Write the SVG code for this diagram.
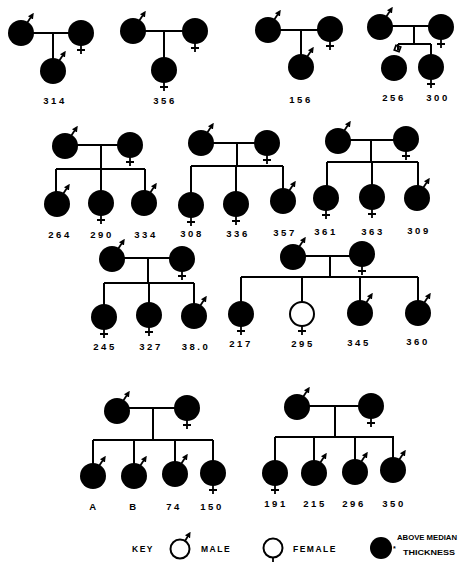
<svg xmlns="http://www.w3.org/2000/svg" width="466" height="568" viewBox="0 0 466 568">
<style>
.n{fill:#000}
.o{fill:#fff;stroke:#000;stroke-width:2}
.l{stroke:#000;stroke-width:2;fill:none}
.s{stroke:#000;stroke-width:1.8;fill:none}
.t{font-family:"Liberation Sans",Arial,sans-serif;font-weight:bold;font-size:9.5px;letter-spacing:2.5px;text-anchor:middle;fill:#000}
.k{font-family:"Liberation Sans",Arial,sans-serif;font-weight:bold;font-size:8.5px;letter-spacing:1.5px;fill:#000}
.kk{font-family:"Liberation Sans",Arial,sans-serif;font-weight:bold;font-size:8px;fill:#000}
</style>
<defs>
<marker id="ar" markerWidth="6" markerHeight="6" refX="1" refY="3" orient="auto" markerUnits="userSpaceOnUse"><path d="M0,0 L6,3 L0,6 z" fill="#000"/></marker>
</defs>
<g id="connectors" class="l">
<path d="M21 33H81M53 33V62"/>
<path d="M133 31H195M164 31V60"/>
<path d="M268 30H330M301 30V57"/>
<path d="M380 26H441M414 26V44M398 44H431M398 44V50M431 44V57"/>
<path d="M65 145H130M101 145V169M56 169H145M56 169V193M101 169V192M145 169V192"/>
<path d="M201 143H267M237 143V166M191 166H283M191 166V194M236 166V193M283 166V190"/>
<path d="M338 140H406M371 140V162M327 162H418M327 162V187M372 162V186M418 162V187"/>
<path d="M112 258H182M148 258V283M104 283H194M104 283V306M149 283V304M194 283V305"/>
<path d="M293 256H362M330 256V277M241 277H418M241 277V303M302 277V303M360 277V302M418 277V302"/>
<path d="M117 408H187M153 408V440M93 440H213M93 440V465M134 440V465M175 440V463M213 440V462"/>
<path d="M297 406H371M335 406V437M275 437H394M275 437V462M314 437V462M355 437V461M393 437V459"/>
</g>
<g id="p314">
<g id="n314f"><circle class="n" cx="21" cy="33" r="13"/><path class="s" d="M27 23L31 17" marker-end="url(#ar)"/></g>
<g id="n314m"><circle class="n" cx="81" cy="33" r="13"/><path class="s" d="M81 44V54M77 50H85"/></g>
<g id="n314c"><circle class="n" cx="53" cy="71" r="13"/><path class="s" d="M59 61L63 55" marker-end="url(#ar)"/></g>
<text class="t" x="55" y="104">314</text>
</g>
<g id="p356">
<g id="n356f"><circle class="n" cx="133" cy="31" r="13"/><path class="s" d="M139 21L143 15" marker-end="url(#ar)"/></g>
<g id="n356m"><circle class="n" cx="195" cy="31" r="13"/><path class="s" d="M195 42V52M191 48H199"/></g>
<g id="n356c"><circle class="n" cx="164" cy="70" r="13"/><path class="s" d="M164 81V91M160 87H168"/></g>
<text class="t" x="165" y="104">356</text>
</g>
<g id="p156">
<g id="n156f"><circle class="n" cx="268" cy="30" r="13"/><path class="s" d="M274 20L278 14" marker-end="url(#ar)"/></g>
<g id="n156m"><circle class="n" cx="330" cy="29" r="13"/><path class="s" d="M330 40V50M326 46H334"/></g>
<g id="n156c"><circle class="n" cx="301" cy="67" r="13"/><path class="s" d="M307 57L311 51" marker-end="url(#ar)"/></g>
<text class="t" x="301" y="103">156</text>
</g>
<g id="p256">
<g id="n256f"><circle class="n" cx="380" cy="27" r="13"/><path class="s" d="M386 17L390 11" marker-end="url(#ar)"/></g>
<g id="n256m"><circle class="n" cx="441" cy="27" r="13"/><path class="s" d="M441 38V48M437 44H445"/></g>
<g id="n256"><circle class="n" cx="394" cy="68" r="13"/><rect class="s" x="395" y="46" width="5" height="5" transform="rotate(20 397.5 48.5)"/></g>
<g id="n300"><circle class="n" cx="431" cy="67" r="13"/><path class="s" d="M431 78V88M427 84H435"/></g>
<text class="t" x="394" y="101">256</text>
<text class="t" x="438" y="101">300</text>
</g>
<g id="p264">
<g id="n264f"><circle class="n" cx="65" cy="146" r="13"/><path class="s" d="M71 136L75 130" marker-end="url(#ar)"/></g>
<g id="n264m"><circle class="n" cx="130" cy="145" r="13"/><path class="s" d="M130 156V166M126 162H134"/></g>
<g id="n264"><circle class="n" cx="57" cy="204" r="13"/><path class="s" d="M63 194L67 188" marker-end="url(#ar)"/></g>
<g id="n290"><circle class="n" cx="101" cy="203" r="13"/><path class="s" d="M101 214V224M97 220H105"/></g>
<g id="n334"><circle class="n" cx="144" cy="203" r="13"/><path class="s" d="M150 193L154 187" marker-end="url(#ar)"/></g>
<text class="t" x="60" y="238">264</text>
<text class="t" x="102" y="238">290</text>
<text class="t" x="146" y="238">334</text>
</g>
<g id="p308">
<g id="n308f"><circle class="n" cx="201" cy="143" r="13"/><path class="s" d="M207 133L211 127" marker-end="url(#ar)"/></g>
<g id="n308m"><circle class="n" cx="267" cy="143" r="13"/><path class="s" d="M267 154V164M263 160H271"/></g>
<g id="n308"><circle class="n" cx="191" cy="205" r="13"/><path class="s" d="M191 216V226M187 222H195"/></g>
<g id="n336"><circle class="n" cx="236" cy="204" r="13"/><path class="s" d="M236 215V225M232 221H240"/></g>
<g id="n357"><circle class="n" cx="283" cy="201" r="13"/><path class="s" d="M289 191L293 185" marker-end="url(#ar)"/></g>
<text class="t" x="192" y="237">308</text>
<text class="t" x="238" y="237">336</text>
<text class="t" x="285" y="236">357</text>
</g>
<g id="p361">
<g id="n361f"><circle class="n" cx="338" cy="141" r="13"/><path class="s" d="M344 131L348 125" marker-end="url(#ar)"/></g>
<g id="n361m"><circle class="n" cx="406" cy="139" r="13"/><path class="s" d="M406 150V160M402 156H410"/></g>
<g id="n361"><circle class="n" cx="326" cy="198" r="13"/><path class="s" d="M326 209V219M322 215H330"/></g>
<g id="n363"><circle class="n" cx="372" cy="197" r="13"/><path class="s" d="M372 208V218M368 214H376"/></g>
<g id="n309"><circle class="n" cx="417" cy="198" r="13"/><path class="s" d="M423 188L427 182" marker-end="url(#ar)"/></g>
<text class="t" x="326" y="235">361</text>
<text class="t" x="373" y="235">363</text>
<text class="t" x="419" y="234">309</text>
</g>
<g id="p245">
<g id="n245f"><circle class="n" cx="112" cy="259" r="13"/><path class="s" d="M118 249L122 243" marker-end="url(#ar)"/></g>
<g id="n245m"><circle class="n" cx="182" cy="259" r="13"/><path class="s" d="M182 270V280M178 276H186"/></g>
<g id="n245"><circle class="n" cx="104" cy="317" r="13"/><path class="s" d="M104 328V338M100 334H108"/></g>
<g id="n327"><circle class="n" cx="149" cy="315" r="13"/><path class="s" d="M149 326V336M145 332H153"/></g>
<g id="n380"><circle class="n" cx="194" cy="316" r="13"/><path class="s" d="M200 306L204 300" marker-end="url(#ar)"/></g>
<text class="t" x="105" y="350">245</text>
<text class="t" x="151" y="350">327</text>
<text class="t" x="196" y="350">38.0</text>
</g>
<g id="p217">
<g id="n217f"><circle class="n" cx="293" cy="257" r="13"/><path class="s" d="M299 247L303 241" marker-end="url(#ar)"/></g>
<g id="n217m"><circle class="n" cx="362" cy="254" r="13"/><path class="s" d="M362 265V275M358 271H366"/></g>
<g id="n217"><circle class="n" cx="241" cy="314" r="13"/><path class="s" d="M241 325V335M237 331H245"/></g>
<g id="n295"><circle class="o" cx="302" cy="314" r="12"/><path class="s" d="M302 326V335M298 331H306"/></g>
<g id="n345"><circle class="n" cx="360" cy="313" r="13"/><path class="s" d="M366 303L370 297" marker-end="url(#ar)"/></g>
<g id="n360"><circle class="n" cx="418" cy="313" r="13"/><path class="s" d="M424 303L428 297" marker-end="url(#ar)"/></g>
<text class="t" x="241" y="347">217</text>
<text class="t" x="303" y="347">295</text>
<text class="t" x="359" y="346">345</text>
<text class="t" x="418" y="345">360</text>
</g>
<g id="pA">
<g id="nAf"><circle class="n" cx="117" cy="411" r="13"/><path class="s" d="M123 401L127 395" marker-end="url(#ar)"/></g>
<g id="nAm"><circle class="n" cx="187" cy="408" r="13"/><path class="s" d="M187 419V429M183 425H191"/></g>
<g id="nA"><circle class="n" cx="93" cy="476" r="13"/><path class="s" d="M99 466L103 460" marker-end="url(#ar)"/></g>
<g id="nB"><circle class="n" cx="134" cy="476" r="13"/><path class="s" d="M140 466L144 460" marker-end="url(#ar)"/></g>
<g id="n74"><circle class="n" cx="175" cy="474" r="13"/><path class="s" d="M181 464L185 458" marker-end="url(#ar)"/></g>
<g id="n150"><circle class="n" cx="213" cy="473" r="13"/><path class="s" d="M213 484V494M209 490H217"/></g>
<text class="t" x="94" y="510">A</text>
<text class="t" x="134" y="510">B</text>
<text class="t" x="174" y="510">74</text>
<text class="t" x="212" y="510">150</text>
</g>
<g id="p191">
<g id="n191f"><circle class="n" cx="297" cy="407" r="13"/><path class="s" d="M303 397L307 391" marker-end="url(#ar)"/></g>
<g id="n191m"><circle class="n" cx="371" cy="406" r="13"/><path class="s" d="M371 417V427M367 423H375"/></g>
<g id="n191"><circle class="n" cx="275" cy="473" r="13"/><path class="s" d="M275 484V494M271 490H279"/></g>
<g id="n215"><circle class="n" cx="314" cy="473" r="13"/><path class="s" d="M320 463L324 457" marker-end="url(#ar)"/></g>
<g id="n296"><circle class="n" cx="355" cy="472" r="13"/><path class="s" d="M361 462L365 456" marker-end="url(#ar)"/></g>
<g id="n350"><circle class="n" cx="393" cy="470" r="13"/><path class="s" d="M399 460L403 454" marker-end="url(#ar)"/></g>
<text class="t" x="276" y="507">191</text>
<text class="t" x="315" y="507">215</text>
<text class="t" x="354" y="507">296</text>
<text class="t" x="394" y="507">350</text>
</g>
<g id="legend">
<text class="k" x="132" y="552">KEY</text>
<g id="keyMale"><circle class="o" cx="180" cy="549" r="9.5"/><path class="s" d="M185 541L188 536" marker-end="url(#ar)"/></g>
<text class="k" x="201" y="552">MALE</text>
<g id="keyFemale"><circle class="o" cx="273" cy="548" r="9.5"/><path class="s" d="M273 557.5V562"/></g>
<text class="k" x="293" y="552">FEMALE</text>
<g id="keyFilled"><circle class="n" cx="381" cy="548" r="11"/><text class="kk" x="393" y="551" style="font-size:7px">*</text></g>
<text class="kk" x="397" y="540" textLength="60" lengthAdjust="spacingAndGlyphs">ABOVE MEDIAN</text>
<text class="kk" x="403" y="555" textLength="52" lengthAdjust="spacingAndGlyphs">THICKNESS</text>
</g>
</svg>
